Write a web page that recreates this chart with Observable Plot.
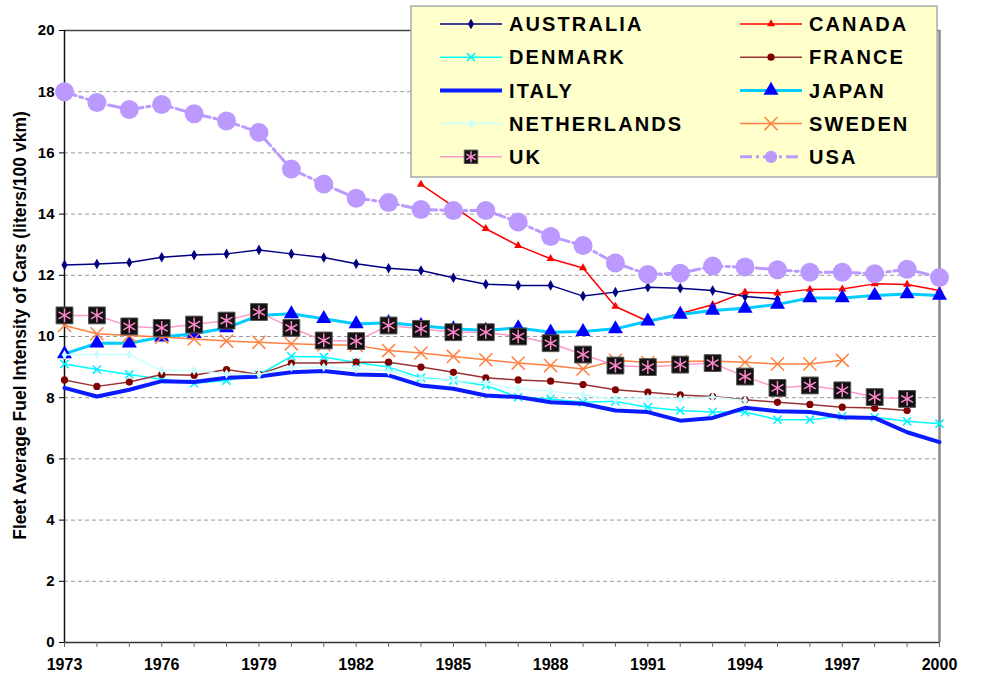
<!DOCTYPE html>
<html><head><meta charset="utf-8">
<script src="https://cdn.jsdelivr.net/npm/d3@7"></script>
<script src="https://cdn.jsdelivr.net/npm/@observablehq/plot@0.6"></script>
<style>
body{margin:0;background:#fff;font-family:"Liberation Sans",Arial,sans-serif;}
#wrap{position:relative;width:998px;height:676px;overflow:hidden;}
#wrap svg{position:absolute;left:0;top:0;}
</style></head><body><div id="wrap"></div>
<script>
// ---------- DATA ----------
const years = d3.range(1973, 2001);
const countries = ["AUSTRALIA","CANADA","DENMARK","FRANCE","ITALY","JAPAN","NETHERLANDS","SWEDEN","UK","USA"];
const australia = [12.34,12.37,12.42,12.59,12.66,12.70,12.83,12.70,12.58,12.38,12.23,12.16,11.92,11.71,11.67,11.67,11.32,11.45,11.61,11.58,11.50,11.31,11.22,null,null,null,null,null];
const canada = [null,null,null,null,null,null,null,null,null,null,null,14.97,14.25,13.52,12.97,12.54,12.24,10.98,10.50,10.75,11.04,11.45,11.42,11.54,11.55,11.72,11.70,11.50];
const denmark = [9.10,8.92,8.76,8.60,8.47,8.56,8.75,9.35,9.33,9.15,9.00,8.65,8.56,8.40,8.02,7.96,7.85,7.88,7.69,7.58,7.53,7.53,7.28,7.28,7.39,7.36,7.23,7.15];
const france = [8.58,8.37,8.51,8.76,8.73,8.92,8.76,9.13,9.13,9.16,9.16,9.00,8.83,8.65,8.58,8.54,8.43,8.26,8.18,8.09,8.04,7.93,7.85,7.78,7.69,7.66,7.58,null];
const italy = [8.32,8.04,8.26,8.54,8.51,8.65,8.69,8.83,8.87,8.76,8.73,8.40,8.29,8.07,8.02,7.85,7.80,7.58,7.53,7.25,7.34,7.67,7.56,7.53,7.36,7.34,6.87,6.55];
const japan = [9.43,9.78,9.78,9.98,10.09,10.28,10.69,10.74,10.58,10.41,10.45,10.35,10.25,10.20,10.28,10.14,10.16,10.25,10.50,10.72,10.85,10.92,11.05,11.26,11.26,11.34,11.39,11.34];
const netherlands = [9.40,9.41,9.41,8.89,8.89,8.78,8.76,9.00,9.00,8.94,8.87,8.62,8.56,8.47,8.29,8.21,8.10,7.93,8.00,7.96,8.02,7.91,null,null,null,null,null,null];
const sweden = [10.36,10.09,10.03,9.98,9.92,9.85,9.81,9.76,9.73,9.71,9.54,9.46,9.35,9.24,9.13,9.05,8.94,9.22,9.15,9.18,9.20,9.16,9.10,9.10,9.22,null,null,null];
const uk = [10.69,10.69,10.33,10.28,10.39,10.52,10.80,10.28,9.87,9.85,10.36,10.25,10.14,10.14,10.00,9.78,9.41,9.05,9.00,9.08,9.13,8.69,8.32,8.40,8.24,8.02,7.96,null];
const usa = [18.00,17.65,17.42,17.58,17.28,17.04,16.67,15.47,14.98,14.52,14.38,14.15,14.12,14.12,13.74,13.27,12.97,12.40,12.03,12.07,12.30,12.27,12.18,12.10,12.10,12.05,12.20,11.93];
const yTicks = [0,2,4,6,8,10,12,14,16,18,20];
const gridTicks = [2,4,6,8,10,12,14,16,18];
const xLabelTicks = [1973,1976,1979,1982,1985,1988,1991,1994,1997,2000];
const yLabel = "Fleet Average Fuel Intensity of Cars (liters/100 vkm)";

const seriesValues = [australia,canada,denmark,france,italy,japan,netherlands,sweden,uk,usa];
const rows = countries.flatMap((c, k) => years.map((yr, i) => ({country: c, year: yr, value: seriesValues[k][i]})))
  .filter(d => d.value != null);
const S = c => rows.filter(d => d.country === c);

// ---------- STYLES ----------
const styles = {
  AUSTRALIA:   {line: {stroke: "#000080", strokeWidth: 1.5}, dots: [{symbol: "diamond", fill: "#000080", r: 3.2}]},
  CANADA:      {line: {stroke: "#ff0000", strokeWidth: 1.5}, dots: [{symbol: "triangle", fill: "#ff0000", r: 3}]},
  DENMARK:     {line: {stroke: "#00ffff", strokeWidth: 1.5}, dots: [{symbol: "times", stroke: "#00f0ff", strokeWidth: 1.5, r: 3.8}]},
  FRANCE:      {line: {stroke: "#993333", strokeWidth: 1.5}, dots: [{symbol: "circle", fill: "#800000", r: 3.6}]},
  ITALY:       {line: {stroke: "#0a1cff", strokeWidth: 4}, dots: []},
  JAPAN:       {line: {stroke: "#00ccff", strokeWidth: 3}, dots: [{symbol: "triangle", fill: "#0000ff", r: 5.6}]},
  NETHERLANDS: {line: {stroke: "#ccffff", strokeWidth: 1.5}, dots: [{symbol: "diamond", fill: "#c8fcff", r: 3}]},
  SWEDEN:      {line: {stroke: "#ff8040", strokeWidth: 1.5}, dots: [{symbol: "times", stroke: "#ff8040", strokeWidth: 1.5, r: 6}]},
  UK:          {line: {stroke: "#ff99cc", strokeWidth: 1.5}, dots: [{symbol: "square", fill: "#111", stroke: "#555", strokeWidth: 1, r: 9.5}, {symbol: "asterisk", stroke: "#ff88cc", strokeWidth: 1.5, r: 6.5}]},
  USA:         {line: {stroke: "#bb99ff", strokeWidth: 3, strokeDasharray: "12,4,3,4"}, dots: [{symbol: "circle", fill: "#bb99ff", r: 9.5}]}
};

const font = "'Liberation Sans', Arial, sans-serif";
const seriesMarks = countries.flatMap(c => [
  Plot.line(S(c), {x: "year", y: "value", ...styles[c].line}),
  ...styles[c].dots.map(o => Plot.dot(S(c), {x: "year", y: "value", ...o}))
]);

const chart = Plot.plot({
  width: 998, height: 676,
  marginLeft: 64, marginRight: 59, marginTop: 30, marginBottom: 34,
  style: {fontFamily: font, background: "transparent", color: "#000"},
  x: {domain: [1973, 2000]},
  y: {domain: [0, 20]},
  marks: [
    Plot.gridY(gridTicks, {stroke: "#999", strokeOpacity: 1, strokeDasharray: "4,3"}),
    Plot.ruleY([20], {stroke: "#444", strokeWidth: 1.5}),
    Plot.ruleX([2000], {stroke: "#888", strokeWidth: 2.5}),
    Plot.ruleX([1973], {stroke: "#111", strokeWidth: 1.5}),
    Plot.ruleY([0], {stroke: "#333", strokeWidth: 1.5}),
    Plot.axisY({ticks: yTicks, tickSize: 5, tickPadding: 5, fontSize: 15, fontWeight: "bold", label: null}),
    Plot.axisX({ticks: years, tickSize: 5, tickFormat: () => "", label: null, stroke: "#666"}),
    Plot.axisX({ticks: xLabelTicks, tickSize: 0, tickPadding: 16, tickFormat: "d", fontSize: 16, fontWeight: "bold", label: null}),
    Plot.text([yLabel], {frameAnchor: "left", textAnchor: "middle", dx: -44, dy: -11, rotate: -90, fontSize: 17.5, fontWeight: "bold", fill: "#000"}),
    ...seriesMarks
  ]
});
const wrap = document.getElementById("wrap");
wrap.appendChild(chart);

// ---------- LEGEND ----------
const lg = d3.select(wrap).append("svg").attr("width", 998).attr("height", 676)
  .style("pointer-events", "none");
lg.append("rect").attr("x", 411).attr("y", 6).attr("width", 526).attr("height", 171)
  .attr("fill", "#ffffcc").attr("stroke", "#aaa").attr("stroke-width", 1.5);
const symMap = {diamond: d3.symbolDiamond, triangle: d3.symbolTriangle, times: d3.symbolTimes,
  circle: d3.symbolCircle, square: d3.symbolSquare, asterisk: d3.symbolAsterisk};
const legendScale = {USA: 0.65, UK: 0.8};
countries.forEach((c, k) => {
  const col = k % 2, row = Math.floor(k / 2);
  const x0 = col ? 740 : 440, x1 = x0 + 62, xm = x0 + 31, y = 24 + row * 33.2;
  const st = styles[c];
  lg.append("line").attr("x1", x0).attr("x2", x1).attr("y1", y).attr("y2", y)
    .attr("stroke", st.line.stroke).attr("stroke-width", st.line.strokeWidth)
    .attr("stroke-dasharray", st.line.strokeDasharray || null);
  st.dots.forEach(o => {
    const r = o.r * (legendScale[c] || 1);
    lg.append("path").attr("transform", `translate(${xm},${y})`)
      .attr("d", d3.symbol(symMap[o.symbol], Math.PI * r * r)())
      .attr("fill", o.fill || "none").attr("stroke", o.stroke || "none")
      .attr("stroke-width", o.strokeWidth || null);
  });
  lg.append("text").attr("x", x1 + 7).attr("y", y).attr("dy", "0.36em")
    .attr("font-family", font).attr("font-weight", "bold").attr("font-size", 20)
    .attr("letter-spacing", "2.1px").attr("fill", "#000").text(c);
});
</script></body></html>
